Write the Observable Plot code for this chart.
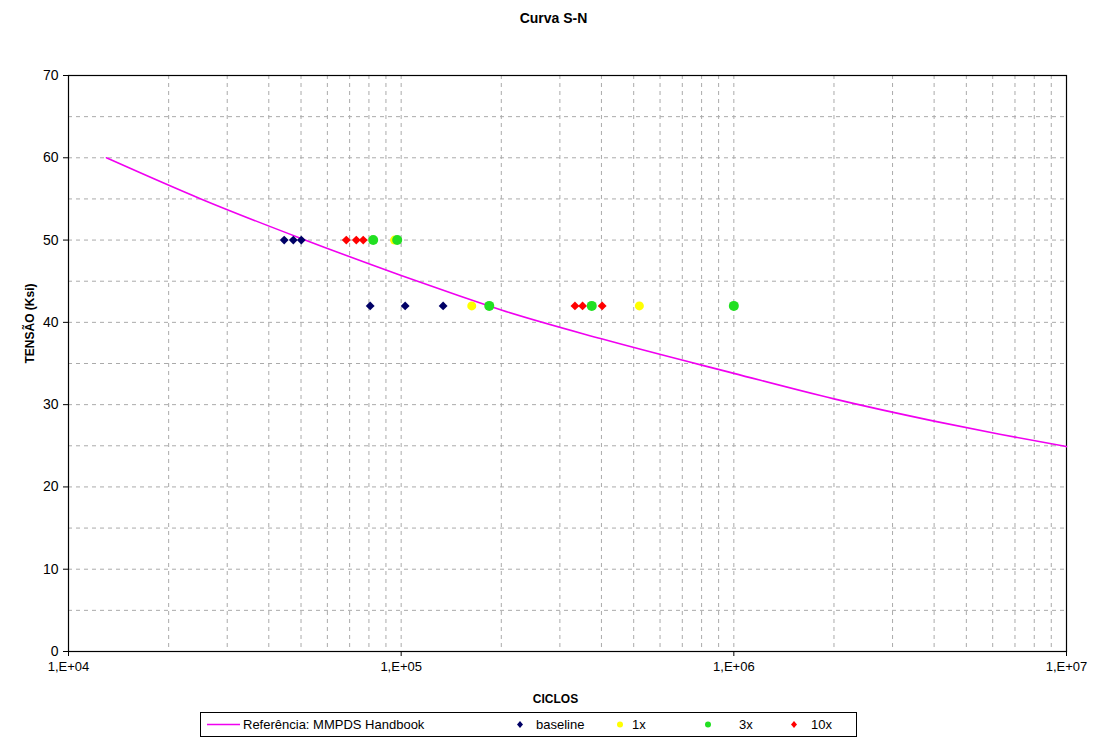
<!DOCTYPE html>
<html>
<head>
<meta charset="utf-8">
<script src="https://cdn.jsdelivr.net/npm/d3@7"></script>
<script src="https://cdn.jsdelivr.net/npm/@observablehq/plot@0.6"></script>
<style>
  html, body { margin: 0; padding: 0; background: #fff; }
  body { width: 1100px; height: 747px; position: relative; overflow: hidden; font-family: "Liberation Sans", Arial, sans-serif; }
  #chart { position: absolute; left: 0; top: 0; }
  #legend { position: absolute; left: 200px; top: 712px; width: 655px; height: 23px; border: 1px solid #000; background: #fff; font-size: 13px; color: #000; }
  #legend .item { position: absolute; top: 0; height: 23px; line-height: 23px; white-space: nowrap; }
  #legend svg { position: absolute; top: 0; }
</style>
</head>
<body>
<div id="chart"></div>
<div id="legend"></div>
<script>
// ---- Data ----
const refCycles = [13000, 25000, 50000, 100000, 150000, 200000, 400000, 1000000, 2000000, 4000000, 6300000, 10000000];
const refStress = [60, 55.0, 50.2, 45.7, 43.2, 41.5, 38.0, 33.8, 30.7, 28.0, 26.4, 24.9];

const baselineCycles = [44500, 47400, 50100, 80700, 102800, 133700];
const baselineStress = [50, 50, 50, 42, 42, 42];

const x1Cycles = [95500, 163000, 520000];
const x1Stress = [50, 42, 42];

const x3Cycles = [82400, 97300, 184000, 374000, 1000000];
const x3Stress = [50, 50, 42, 42, 42];

const x10Cycles = [68400, 73300, 76900, 333000, 351000, 402000];
const x10Stress = [50, 50, 50, 42, 42, 42];

const xTicks = [1e4, 1e5, 1e6, 1e7];
const yTicks = [0, 10, 20, 30, 40, 50, 60, 70];

const seriesNames = ["Referência: MMPDS Handbook", "baseline", "1x", "3x", "10x"];
const seriesColors = ["#f000f0", "#000066", "#ffff00", "#22e022", "#ff0000"];

// ---- Build tables ----
const zip = (xs, ys) => xs.map((x, i) => ({x, y: ys[i]}));
const refData = zip(refCycles, refStress);
const baseData = zip(baselineCycles, baselineStress);
const x1Data = zip(x1Cycles, x1Stress);
const x3Data = zip(x3Cycles, x3Stress);
const x10Data = zip(x10Cycles, x10Stress);

// minor log grid positions
const xGrid = [];
for (let k = 4; k < 7; k++) for (let m = 1; m <= 9; m++) { const v = m * Math.pow(10, k); if (v > 1e4) xGrid.push(v); }
const yGrid = d3.range(5, 70, 5);

const fmtX = d => "1,E+" + String(Math.round(Math.log10(d))).padStart(2, "0");

const plot = Plot.plot({
  width: 1100,
  height: 710,
  marginLeft: 68,
  marginRight: 34,
  marginTop: 75,
  marginBottom: 59,
  style: { fontFamily: "Liberation Sans, Arial, sans-serif", fontSize: "13px", background: "transparent", color: "#000" },
  x: { type: "log", domain: [1e4, 1e7], label: null },
  y: { domain: [0, 70], label: null },
  marks: [
    Plot.gridY(yGrid, { stroke: "#aaa", strokeOpacity: 1, strokeDasharray: "4,4" }),
    Plot.gridX(xGrid, { stroke: "#aaa", strokeOpacity: 1, strokeDasharray: "4,4" }),
    Plot.frame({ stroke: "#000", strokeWidth: 1.2 }),
    Plot.axisX(xTicks, { tickFormat: fmtX, tickSize: 5, tickPadding: 5, label: null, fontSize: 13 }),
    Plot.axisY(yTicks, { tickSize: 5, tickPadding: 5, label: null, fontSize: 14 }),
    Plot.line(refData, { x: "x", y: "y", stroke: seriesColors[0], strokeWidth: 1.6, curve: "monotone-x" }),
    Plot.dot(baseData, { x: "x", y: "y", symbol: "diamond2", fill: seriesColors[1], stroke: "none", r: 4 }),
    Plot.dot(x1Data, { x: "x", y: "y", symbol: "circle", fill: seriesColors[2], stroke: "none", r: 4.5 }),
    Plot.dot(x3Data, { x: "x", y: "y", symbol: "circle", fill: seriesColors[3], stroke: "none", r: 5 }),
    Plot.dot(x10Data, { x: "x", y: "y", symbol: "diamond2", fill: seriesColors[4], stroke: "none", r: 4 }),
    Plot.text(["Curva S-N"], { frameAnchor: "top", dy: -62, dx: -14, fontWeight: "bold", fontSize: 14 }),
    Plot.text(["CICLOS"], { frameAnchor: "bottom", dy: 51, dx: -12, fontWeight: "bold", fontSize: 12 }),
    Plot.text(["TENSÃO (Ksi)"], { frameAnchor: "left", dx: -38, rotate: -90, fontWeight: "bold", fontSize: 12 })
  ]
});
document.getElementById("chart").appendChild(plot);

// ---- Legend ----
const legend = document.getElementById("legend");
const legendPos = [ {sym: 6, text: 42}, {sym: 319, text: 335}, {sym: 419, text: 431}, {sym: 507, text: 538}, {sym: 593, text: 610} ];
const legendSym = ["line", "diamond", "circle", "circle", "diamond"];
seriesNames.forEach((name, i) => {
  const p = legendPos[i];
  const ns = "http://www.w3.org/2000/svg";
  const s = document.createElementNS(ns, "svg");
  s.setAttribute("height", "23");
  if (legendSym[i] === "line") {
    s.setAttribute("width", "34");
    s.style.left = p.sym + "px";
    const l = document.createElementNS(ns, "line");
    l.setAttribute("x1", 0); l.setAttribute("x2", 33); l.setAttribute("y1", 11.5); l.setAttribute("y2", 11.5);
    l.setAttribute("stroke", seriesColors[i]); l.setAttribute("stroke-width", 1.6);
    s.appendChild(l);
  } else {
    s.setAttribute("width", "12");
    s.style.left = (p.sym - 6) + "px";
    let e;
    if (legendSym[i] === "diamond") {
      e = document.createElementNS(ns, "path");
      e.setAttribute("d", "M6,8 L9,11.5 L6,15 L3,11.5 Z");
    } else {
      e = document.createElementNS(ns, "circle");
      e.setAttribute("cx", 6); e.setAttribute("cy", 11.5); e.setAttribute("r", 3);
    }
    e.setAttribute("fill", seriesColors[i]);
    s.appendChild(e);
  }
  legend.appendChild(s);
  const t = document.createElement("div");
  t.className = "item";
  t.style.left = p.text + "px";
  t.textContent = name;
  legend.appendChild(t);
});
</script>
</body>
</html>
